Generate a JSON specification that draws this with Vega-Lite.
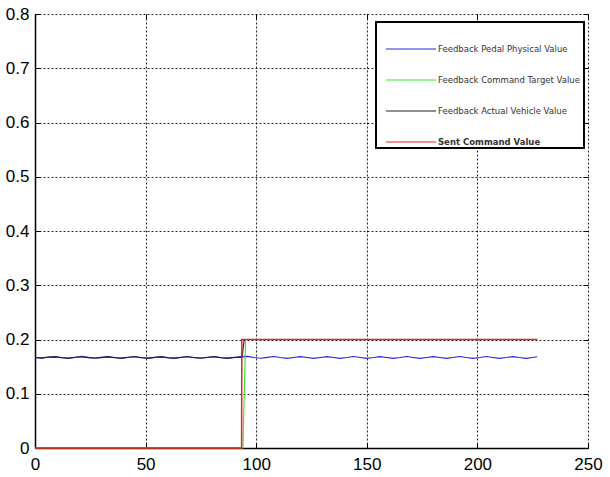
{
  "$schema": "https://vega.github.io/schema/vega-lite/v6.json",
  "width": 553,
  "height": 434,
  "autosize": {"type": "none"},
  "padding": {"left": 35, "top": 14, "right": 22, "bottom": 29},
  "background": "white",
  "config": {
    "view": {"stroke": null},
    "axis": {
      "labelFont": "Liberation Sans",
      "labelFontSize": 17,
      "labelColor": "#000",
      "domainColor": "#000",
      "domainWidth": 1.5,
      "tickColor": "#000",
      "tickSize": -5,
      "gridColor": "#000",
      "gridDash": [2, 2],
      "gridOpacity": 0.85,
      "gridWidth": 1,
      "title": null
    }
  },
  "data": {
    "values": [
      {"t": 0, "v": 0.167, "s": "Feedback  Pedal Physical Value"},
      {"t": 3, "v": 0.1655, "s": "Feedback  Pedal Physical Value"},
      {"t": 6, "v": 0.1672, "s": "Feedback  Pedal Physical Value"},
      {"t": 9, "v": 0.1685, "s": "Feedback  Pedal Physical Value"},
      {"t": 12, "v": 0.1668, "s": "Feedback  Pedal Physical Value"},
      {"t": 15, "v": 0.1652, "s": "Feedback  Pedal Physical Value"},
      {"t": 18, "v": 0.1668, "s": "Feedback  Pedal Physical Value"},
      {"t": 21, "v": 0.1688, "s": "Feedback  Pedal Physical Value"},
      {"t": 24, "v": 0.167, "s": "Feedback  Pedal Physical Value"},
      {"t": 27, "v": 0.1654, "s": "Feedback  Pedal Physical Value"},
      {"t": 30, "v": 0.1666, "s": "Feedback  Pedal Physical Value"},
      {"t": 33, "v": 0.1684, "s": "Feedback  Pedal Physical Value"},
      {"t": 36, "v": 0.1669, "s": "Feedback  Pedal Physical Value"},
      {"t": 39, "v": 0.1653, "s": "Feedback  Pedal Physical Value"},
      {"t": 42, "v": 0.1668, "s": "Feedback  Pedal Physical Value"},
      {"t": 45, "v": 0.1686, "s": "Feedback  Pedal Physical Value"},
      {"t": 48, "v": 0.1668, "s": "Feedback  Pedal Physical Value"},
      {"t": 51, "v": 0.1652, "s": "Feedback  Pedal Physical Value"},
      {"t": 54, "v": 0.1667, "s": "Feedback  Pedal Physical Value"},
      {"t": 57, "v": 0.1684, "s": "Feedback  Pedal Physical Value"},
      {"t": 60, "v": 0.1666, "s": "Feedback  Pedal Physical Value"},
      {"t": 63, "v": 0.1653, "s": "Feedback  Pedal Physical Value"},
      {"t": 66, "v": 0.1669, "s": "Feedback  Pedal Physical Value"},
      {"t": 69, "v": 0.1686, "s": "Feedback  Pedal Physical Value"},
      {"t": 72, "v": 0.1669, "s": "Feedback  Pedal Physical Value"},
      {"t": 75, "v": 0.1654, "s": "Feedback  Pedal Physical Value"},
      {"t": 78, "v": 0.1668, "s": "Feedback  Pedal Physical Value"},
      {"t": 81, "v": 0.1685, "s": "Feedback  Pedal Physical Value"},
      {"t": 84, "v": 0.1667, "s": "Feedback  Pedal Physical Value"},
      {"t": 87, "v": 0.1653, "s": "Feedback  Pedal Physical Value"},
      {"t": 90, "v": 0.1667, "s": "Feedback  Pedal Physical Value"},
      {"t": 93, "v": 0.1684, "s": "Feedback  Pedal Physical Value"},
      {"t": 96, "v": 0.1688, "s": "Feedback  Pedal Physical Value"},
      {"t": 99, "v": 0.1668, "s": "Feedback  Pedal Physical Value"},
      {"t": 102, "v": 0.1654, "s": "Feedback  Pedal Physical Value"},
      {"t": 105, "v": 0.167, "s": "Feedback  Pedal Physical Value"},
      {"t": 108, "v": 0.1686, "s": "Feedback  Pedal Physical Value"},
      {"t": 111, "v": 0.1668, "s": "Feedback  Pedal Physical Value"},
      {"t": 114, "v": 0.1653, "s": "Feedback  Pedal Physical Value"},
      {"t": 117, "v": 0.1668, "s": "Feedback  Pedal Physical Value"},
      {"t": 120, "v": 0.1685, "s": "Feedback  Pedal Physical Value"},
      {"t": 123, "v": 0.1668, "s": "Feedback  Pedal Physical Value"},
      {"t": 126, "v": 0.1652, "s": "Feedback  Pedal Physical Value"},
      {"t": 129, "v": 0.1667, "s": "Feedback  Pedal Physical Value"},
      {"t": 132, "v": 0.1684, "s": "Feedback  Pedal Physical Value"},
      {"t": 135, "v": 0.1668, "s": "Feedback  Pedal Physical Value"},
      {"t": 138, "v": 0.1652, "s": "Feedback  Pedal Physical Value"},
      {"t": 141, "v": 0.1667, "s": "Feedback  Pedal Physical Value"},
      {"t": 144, "v": 0.1686, "s": "Feedback  Pedal Physical Value"},
      {"t": 147, "v": 0.1669, "s": "Feedback  Pedal Physical Value"},
      {"t": 150, "v": 0.1653, "s": "Feedback  Pedal Physical Value"},
      {"t": 153, "v": 0.1667, "s": "Feedback  Pedal Physical Value"},
      {"t": 156, "v": 0.1684, "s": "Feedback  Pedal Physical Value"},
      {"t": 159, "v": 0.1667, "s": "Feedback  Pedal Physical Value"},
      {"t": 162, "v": 0.1652, "s": "Feedback  Pedal Physical Value"},
      {"t": 165, "v": 0.1668, "s": "Feedback  Pedal Physical Value"},
      {"t": 168, "v": 0.1687, "s": "Feedback  Pedal Physical Value"},
      {"t": 171, "v": 0.1669, "s": "Feedback  Pedal Physical Value"},
      {"t": 174, "v": 0.1653, "s": "Feedback  Pedal Physical Value"},
      {"t": 177, "v": 0.1668, "s": "Feedback  Pedal Physical Value"},
      {"t": 180, "v": 0.1685, "s": "Feedback  Pedal Physical Value"},
      {"t": 183, "v": 0.1668, "s": "Feedback  Pedal Physical Value"},
      {"t": 186, "v": 0.1652, "s": "Feedback  Pedal Physical Value"},
      {"t": 189, "v": 0.1667, "s": "Feedback  Pedal Physical Value"},
      {"t": 192, "v": 0.1686, "s": "Feedback  Pedal Physical Value"},
      {"t": 195, "v": 0.1668, "s": "Feedback  Pedal Physical Value"},
      {"t": 198, "v": 0.1653, "s": "Feedback  Pedal Physical Value"},
      {"t": 201, "v": 0.1668, "s": "Feedback  Pedal Physical Value"},
      {"t": 204, "v": 0.1686, "s": "Feedback  Pedal Physical Value"},
      {"t": 207, "v": 0.1668, "s": "Feedback  Pedal Physical Value"},
      {"t": 210, "v": 0.1652, "s": "Feedback  Pedal Physical Value"},
      {"t": 213, "v": 0.1667, "s": "Feedback  Pedal Physical Value"},
      {"t": 216, "v": 0.1685, "s": "Feedback  Pedal Physical Value"},
      {"t": 219, "v": 0.1667, "s": "Feedback  Pedal Physical Value"},
      {"t": 222, "v": 0.1653, "s": "Feedback  Pedal Physical Value"},
      {"t": 225, "v": 0.1668, "s": "Feedback  Pedal Physical Value"},
      {"t": 227, "v": 0.1682, "s": "Feedback  Pedal Physical Value"},

      {"t": 0, "v": 0, "s": "Feedback  Command Target Value"},
      {"t": 94, "v": 0, "s": "Feedback  Command Target Value"},
      {"t": 95.2, "v": 0.2, "s": "Feedback  Command Target Value"},
      {"t": 227, "v": 0.2, "s": "Feedback  Command Target Value"},

      {"t": 0, "v": 0.1668, "s": "Feedback  Actual Vehicle Value"},
      {"t": 3, "v": 0.1662, "s": "Feedback  Actual Vehicle Value"},
      {"t": 6, "v": 0.1676, "s": "Feedback  Actual Vehicle Value"},
      {"t": 9, "v": 0.168, "s": "Feedback  Actual Vehicle Value"},
      {"t": 12, "v": 0.1664, "s": "Feedback  Actual Vehicle Value"},
      {"t": 15, "v": 0.1656, "s": "Feedback  Actual Vehicle Value"},
      {"t": 18, "v": 0.1672, "s": "Feedback  Actual Vehicle Value"},
      {"t": 21, "v": 0.1683, "s": "Feedback  Actual Vehicle Value"},
      {"t": 24, "v": 0.1666, "s": "Feedback  Actual Vehicle Value"},
      {"t": 27, "v": 0.1658, "s": "Feedback  Actual Vehicle Value"},
      {"t": 30, "v": 0.167, "s": "Feedback  Actual Vehicle Value"},
      {"t": 33, "v": 0.168, "s": "Feedback  Actual Vehicle Value"},
      {"t": 36, "v": 0.1665, "s": "Feedback  Actual Vehicle Value"},
      {"t": 39, "v": 0.1657, "s": "Feedback  Actual Vehicle Value"},
      {"t": 42, "v": 0.1672, "s": "Feedback  Actual Vehicle Value"},
      {"t": 45, "v": 0.1682, "s": "Feedback  Actual Vehicle Value"},
      {"t": 48, "v": 0.1665, "s": "Feedback  Actual Vehicle Value"},
      {"t": 51, "v": 0.1656, "s": "Feedback  Actual Vehicle Value"},
      {"t": 54, "v": 0.1671, "s": "Feedback  Actual Vehicle Value"},
      {"t": 57, "v": 0.168, "s": "Feedback  Actual Vehicle Value"},
      {"t": 60, "v": 0.1663, "s": "Feedback  Actual Vehicle Value"},
      {"t": 63, "v": 0.1657, "s": "Feedback  Actual Vehicle Value"},
      {"t": 66, "v": 0.1673, "s": "Feedback  Actual Vehicle Value"},
      {"t": 69, "v": 0.1682, "s": "Feedback  Actual Vehicle Value"},
      {"t": 72, "v": 0.1665, "s": "Feedback  Actual Vehicle Value"},
      {"t": 75, "v": 0.1658, "s": "Feedback  Actual Vehicle Value"},
      {"t": 78, "v": 0.1672, "s": "Feedback  Actual Vehicle Value"},
      {"t": 81, "v": 0.1681, "s": "Feedback  Actual Vehicle Value"},
      {"t": 84, "v": 0.1664, "s": "Feedback  Actual Vehicle Value"},
      {"t": 87, "v": 0.1657, "s": "Feedback  Actual Vehicle Value"},
      {"t": 90, "v": 0.1671, "s": "Feedback  Actual Vehicle Value"},
      {"t": 93.6, "v": 0.1668, "s": "Feedback  Actual Vehicle Value"},
      {"t": 94.6, "v": 0.2, "s": "Feedback  Actual Vehicle Value"},
      {"t": 227, "v": 0.2, "s": "Feedback  Actual Vehicle Value"},

      {"t": 0, "v": 0, "s": "Sent Command Value"},
      {"t": 93.4, "v": 0, "s": "Sent Command Value"},
      {"t": 93.5, "v": 0.2, "s": "Sent Command Value"},
      {"t": 227, "v": 0.2, "s": "Sent Command Value"}
    ]
  },
  "resolve": {"axis": {"x": "independent", "y": "independent"}},
  "layer": [
    {
      "transform": [{"filter": "datum.s == 'Feedback  Pedal Physical Value'"}],
      "mark": {"type": "line", "strokeWidth": 1.1},
      "encoding": {
        "x": {"field": "t", "type": "quantitative", "scale": {"domain": [0, 250], "nice": false},
              "axis": {"values": [0, 50, 100, 150, 200, 250], "grid": true, "labelPadding": 13, "labelFlush": false}},
        "y": {"field": "v", "type": "quantitative", "scale": {"domain": [0, 0.8], "nice": false, "zero": false},
              "axis": {"values": [0, 0.1, 0.2, 0.3, 0.4, 0.5, 0.6, 0.7, 0.8], "format": ".1~f", "grid": true, "labelPadding": 11, "labelFlush": false}},
        "color": {
          "field": "s", "type": "nominal",
          "scale": {
            "domain": ["Feedback  Pedal Physical Value", "Feedback  Command Target Value", "Feedback  Actual Vehicle Value", "Sent Command Value"],
            "range": ["#2424e6", "#33e633", "#222222", "#e32222"]
          },
          "legend": {
            "title": null,
            "orient": "none",
            "legendX": 341,
            "legendY": 8,
            "padding": 1,
            "strokeColor": "#000",
            "fillColor": "#fff",
            "symbolType": "M-1,0H1",
            "symbolSize": 2500,
            "symbolOffset": 8,
            "symbolStrokeWidth": 1.2,
            "labelFont": "DejaVu Sans",
            "labelFontSize": 8.5,
            "labelColor": "#333",
            "labelOffset": 1,
            "labelLimit": 300,
            "rowPadding": -1,
            "encode": {
              "legend": {"update": {"strokeWidth": {"value": 2}}},
              "labels": {"update": {"fontWeight": {"signal": "datum.label == 'Sent Command Value' ? 'bold' : 'normal'"}}}
            }
          }
        }
      }
    },
    {
      "transform": [{"filter": "datum.s == 'Feedback  Command Target Value'"}],
      "mark": {"type": "line", "strokeWidth": 1.1},
      "encoding": {
        "x": {"field": "t", "type": "quantitative", "axis": null},
        "y": {"field": "v", "type": "quantitative", "axis": null},
        "color": {"field": "s", "type": "nominal"}
      }
    },
    {
      "transform": [{"filter": "datum.s == 'Feedback  Actual Vehicle Value'"}],
      "mark": {"type": "line", "strokeWidth": 1.1},
      "encoding": {
        "x": {"field": "t", "type": "quantitative", "axis": null},
        "y": {"field": "v", "type": "quantitative", "axis": null},
        "color": {"field": "s", "type": "nominal"}
      }
    },
    {
      "transform": [{"filter": "datum.s == 'Sent Command Value'"}],
      "mark": {"type": "line", "strokeWidth": 1.5},
      "encoding": {
        "x": {"field": "t", "type": "quantitative",
              "axis": {"orient": "top", "values": [0, 50, 100, 150, 200, 250], "labels": false, "domain": false, "grid": false}},
        "y": {"field": "v", "type": "quantitative",
              "axis": {"orient": "right", "values": [0, 0.1, 0.2, 0.3, 0.4, 0.5, 0.6, 0.7, 0.8], "labels": false, "domain": false, "grid": false}},
        "color": {"field": "s", "type": "nominal"}
      }
    }
  ]
}
